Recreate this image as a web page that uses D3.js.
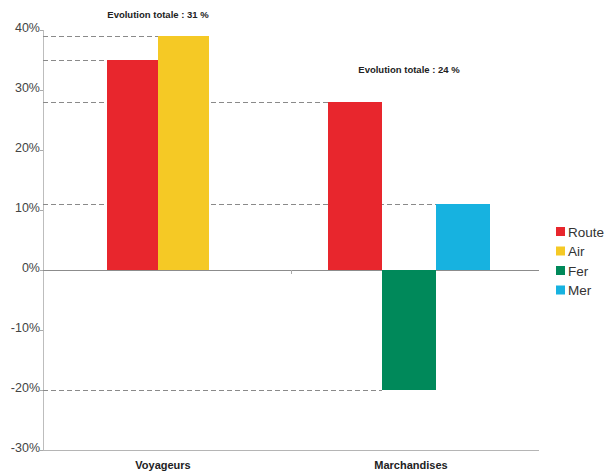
<!DOCTYPE html>
<html>
<head>
<meta charset="utf-8">
<script src="https://cdn.jsdelivr.net/npm/d3@7"></script>
<style>
  body { margin: 0; background: #fff; }
  svg { display: block; font-family: "Liberation Sans", Arial, sans-serif; }
</style>
</head>
<body>
<svg id="chart" width="608" height="472"></svg>
<script>
// Data
const groups = ["Voyageurs", "Marchandises"];
const seriesNames = ["Route", "Air", "Fer", "Mer"];
const seriesColors = ["#e8262d", "#f5c925", "#00895a", "#17b2e0"];
const voyageursValues = [35, 39, null, null];
const marchandisesValues = [28, null, -20, 11];
const totals = ["Evolution totale : 31 %", "Evolution totale : 24 %"];
const yTicks = [40, 30, 20, 10, 0, -10, -20, -30];

const valuesByGroup = [voyageursValues, marchandisesValues];

const svg = d3.select("#chart");
const plotLeft = 43, plotRight = 539, plotTop = 30, plotBottom = 450;

const x0 = d3.scaleBand().domain(groups).range([plotLeft, plotRight]);
const y = d3.scaleLinear().domain([-30, 40]).range([plotBottom, plotTop]);

// per-group layout: bar width, horizontal shift of the bar cluster, total label baseline
const barWidths = [51, 54];
const groupShifts = [-9, -6];
const totalBaselines = [18, 73];

// Axes
svg.append("line").attr("x1", plotLeft + 0.5).attr("x2", plotLeft + 0.5).attr("y1", plotTop).attr("y2", plotBottom)
  .attr("stroke", "#bdbdbd").attr("stroke-width", 1);
svg.append("line").attr("x1", plotLeft).attr("x2", plotRight).attr("y1", plotBottom + 0.5).attr("y2", plotBottom + 0.5)
  .attr("stroke", "#b5b5b5").attr("stroke-width", 1);

const yAxis = svg.append("g");
yTicks.forEach(t => {
  yAxis.append("line").attr("x1", plotLeft - 3).attr("x2", plotLeft).attr("y1", y(t) + 0.5).attr("y2", y(t) + 0.5)
    .attr("stroke", "#aaa");
  yAxis.append("text").attr("x", plotLeft - 3).attr("y", y(t) + 2)
    .attr("text-anchor", "end").attr("font-size", 12.5).attr("fill", "#444")
    .text(t + "%");
});

// Bars and their reference lines
const bars = [];
groups.forEach((g, gi) => {
  const present = seriesNames.map((s, si) => ({ s, si, v: valuesByGroup[gi][si] })).filter(d => d.v !== null);
  const cx = x0(g) + x0.bandwidth() / 2 + groupShifts[gi];
  const w = barWidths[gi];
  const xi = d3.scaleBand().domain(present.map(d => d.s))
    .range([cx - present.length * w / 2, cx + present.length * w / 2]);
  present.forEach(d => bars.push({ g, gi, s: d.s, si: d.si, v: d.v, x: xi(d.s), w: xi.bandwidth() }));
});

const refs = svg.append("g");
bars.forEach(b => {
  refs.append("line").attr("x1", plotLeft).attr("x2", b.x).attr("y1", y(b.v) + 0.5).attr("y2", y(b.v) + 0.5)
    .attr("stroke", "#8a8a8a").attr("stroke-width", 1).attr("stroke-dasharray", "5,3");
});

// Zero line and category separator tick
svg.append("line").attr("x1", plotLeft).attr("x2", plotRight).attr("y1", y(0) + 0.5).attr("y2", y(0) + 0.5)
  .attr("stroke", "#8c8c8c").attr("stroke-width", 1);
svg.append("line").attr("x1", x0("Marchandises") + 0.5).attr("x2", x0("Marchandises") + 0.5)
  .attr("y1", y(0)).attr("y2", y(0) + 4).attr("stroke", "#aaa");

svg.append("g").selectAll("rect").data(bars).join("rect")
  .attr("x", d => d.x).attr("width", d => d.w)
  .attr("y", d => y(Math.max(0, d.v))).attr("height", d => Math.abs(y(d.v) - y(0)))
  .attr("fill", d => seriesColors[d.si]);

// Group totals and category labels
groups.forEach((g, gi) => {
  const groupBars = bars.filter(b => b.gi === gi);
  const cx = (d3.min(groupBars, b => b.x) + d3.max(groupBars, b => b.x + b.w)) / 2;
  svg.append("text").attr("x", cx).attr("y", totalBaselines[gi])
    .attr("text-anchor", "middle").attr("font-size", 9.5).attr("font-weight", "bold").attr("fill", "#222")
    .text(totals[gi]);
  svg.append("text").attr("x", x0(g) + x0.bandwidth() / 2 - 4).attr("y", 469)
    .attr("text-anchor", "middle").attr("font-size", 11).attr("font-weight", "bold").attr("fill", "#222")
    .text(g);
});

// Legend
const legend = svg.append("g").attr("transform", "translate(556,227)");
seriesNames.forEach((s, i) => {
  const row = legend.append("g").attr("transform", `translate(0,${i * 19.5})`);
  row.append("rect").attr("width", 9).attr("height", 9).attr("y", 0).attr("fill", seriesColors[i]);
  row.append("text").attr("x", 12).attr("y", 9.5).attr("font-size", 13.5).attr("fill", "#333").text(s);
});
</script>
</body>
</html>
